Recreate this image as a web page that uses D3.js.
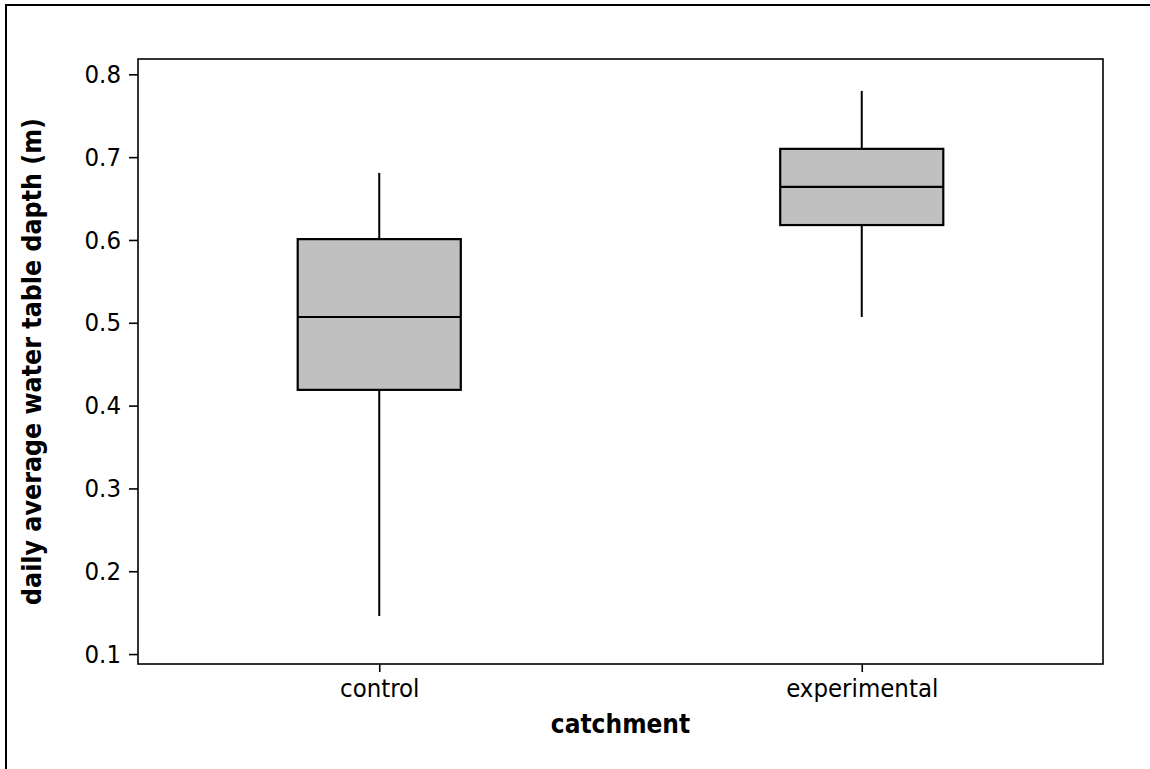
<!DOCTYPE html>
<html>
<head>
<meta charset="utf-8">
<script src="https://cdn.jsdelivr.net/npm/d3@7"></script>
<style>
  html, body { margin: 0; padding: 0; background: #fff; }
  svg { display: block; }
  text { font-family: "DejaVu Sans", "Liberation Sans", sans-serif; font-stretch: condensed; fill: #000; }
</style>
</head>
<body>
<svg id="chart" width="1150" height="769"></svg>
<script>
// Catchment groups and their five-number summaries (m)
const categories = ["control", "experimental"];
const whiskerLow = [0.146, 0.507];
const quartile1  = [0.419, 0.618];
const medians    = [0.507, 0.664];
const quartile3  = [0.601, 0.710];
const whiskerHigh = [0.681, 0.780];
const yTicks = [0.1, 0.2, 0.3, 0.4, 0.5, 0.6, 0.7, 0.8];

const svg = d3.select("#chart");
const plot = { left: 138, right: 1103, top: 59, bottom: 664 };

// outer frame around the whole figure
svg.append("rect")
  .attr("x", 6).attr("y", 5)
  .attr("width", 1200).attr("height", 800)
  .attr("fill", "none").attr("stroke", "#000").attr("stroke-width", 2);

const x = d3.scalePoint().domain(categories)
  .range([plot.left, plot.right]).padding(0.5);
const y = d3.scaleLinear().domain([0.088, 0.8185])
  .range([plot.bottom, plot.top]);
const boxW = x.step() * 0.338;

// plot area frame
svg.append("rect")
  .attr("x", plot.left).attr("y", plot.top)
  .attr("width", plot.right - plot.left).attr("height", plot.bottom - plot.top)
  .attr("fill", "none").attr("stroke", "#000").attr("stroke-width", 1.6);

// y axis
const yAxis = svg.append("g")
  .attr("transform", `translate(${plot.left},0)`)
  .call(d3.axisLeft(y).tickValues(yTicks).tickFormat(d3.format(".1f"))
    .tickSize(9).tickPadding(8));
yAxis.select(".domain").remove();
yAxis.selectAll("line").attr("stroke", "#000").attr("stroke-width", 1.6);
yAxis.selectAll("text").attr("font-size", 25.5).attr("font-family", null);

// x axis
const xAxis = svg.append("g")
  .attr("transform", `translate(0,${plot.bottom})`)
  .call(d3.axisBottom(x).tickSize(8).tickPadding(7));
xAxis.select(".domain").remove();
xAxis.selectAll("line").attr("stroke", "#000").attr("stroke-width", 1.6);
xAxis.selectAll("text").attr("font-size", 25.5).attr("font-family", null);

// boxes
const groups = svg.append("g").selectAll("g")
  .data(categories.map((c, i) => ({
    c, lo: whiskerLow[i], q1: quartile1[i], med: medians[i], q3: quartile3[i], hi: whiskerHigh[i]
  })))
  .join("g");

groups.append("line")
  .attr("x1", d => x(d.c)).attr("x2", d => x(d.c))
  .attr("y1", d => y(d.hi)).attr("y2", d => y(d.q3))
  .attr("stroke", "#000").attr("stroke-width", 2);
groups.append("line")
  .attr("x1", d => x(d.c)).attr("x2", d => x(d.c))
  .attr("y1", d => y(d.q1)).attr("y2", d => y(d.lo))
  .attr("stroke", "#000").attr("stroke-width", 2);
groups.append("rect")
  .attr("x", d => x(d.c) - boxW / 2).attr("width", boxW)
  .attr("y", d => y(d.q3)).attr("height", d => y(d.q1) - y(d.q3))
  .attr("fill", "#c0c0c0").attr("stroke", "#000").attr("stroke-width", 2.2);
groups.append("line")
  .attr("x1", d => x(d.c) - boxW / 2).attr("x2", d => x(d.c) + boxW / 2)
  .attr("y1", d => y(d.med)).attr("y2", d => y(d.med))
  .attr("stroke", "#000").attr("stroke-width", 2.2);

// axis titles
svg.append("text")
  .attr("x", (plot.left + plot.right) / 2).attr("y", 733)
  .attr("text-anchor", "middle").attr("font-size", 26).attr("font-weight", "bold")
  .text("catchment");
svg.append("text")
  .attr("transform", `translate(41,${(plot.top + plot.bottom) / 2}) rotate(-90)`)
  .attr("text-anchor", "middle").attr("font-size", 26.5).attr("font-weight", "bold")
  .text("daily average water table dapth (m)");
</script>
</body>
</html>
